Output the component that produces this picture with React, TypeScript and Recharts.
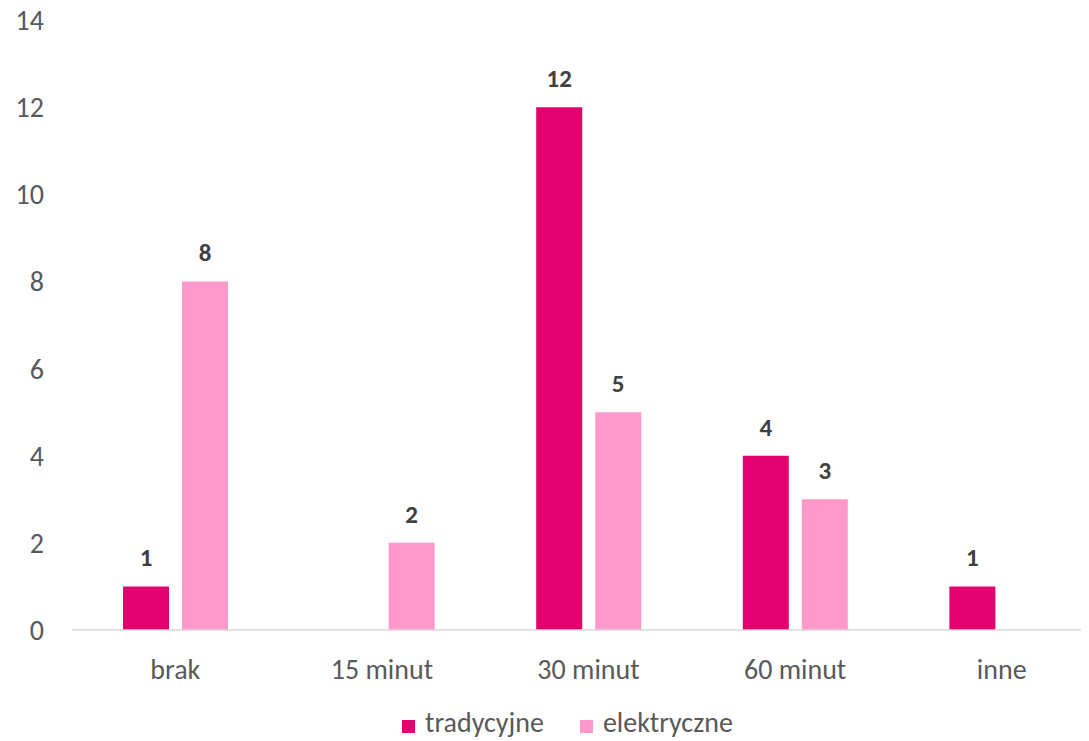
import React from 'react';
import { BarChart, Bar, XAxis, YAxis, Legend, LabelList } from 'recharts';

const categories = ['brak', '15 minut', '30 minut', '60 minut', 'inne'];
const tradycyjne = [1, 0, 12, 4, 1];
const elektryczne = [8, 2, 5, 3, 0];
const yTicks = [0, 2, 4, 6, 8, 10, 12, 14];
const seriesNames = ['tradycyjne', 'elektryczne'];
const colors = ['#E3006F', '#FF99CC'];

const data = categories.map((c, i) => ({
  name: c,
  tradycyjne: tradycyjne[i],
  elektryczne: elektryczne[i],
}));

const FONT = 'Carlito, Calibri, Lato, sans-serif';

const fmt = (v: any) => (v === 0 || v == null ? '' : String(v));

const LegendContent = () => (
  <div
    style={{
      height: 36,
      display: 'flex',
      alignItems: 'flex-start',
      paddingLeft: 402,
      fontFamily: FONT,
      fontSize: 28,
      color: '#595959',
    }}
  >
    {seriesNames.map((n, i) => (
      <div key={n} style={{ display: 'flex', alignItems: 'flex-start', marginRight: 36 }}>
        <div style={{ width: 13, height: 13, background: colors[i], marginRight: 10, marginTop: 15 }} />
        <span style={{ lineHeight: '28px', display: 'block', marginTop: 4 }}>{n}</span>
      </div>
    ))}
  </div>
);

export default function App() {
  return (
    <div style={{ width: 1089, height: 741, margin: '-8px 0 0 -8px', overflow: 'hidden', fontFamily: FONT }}>
      <BarChart
        width={1105}
        height={741}
        data={data}
        margin={{ top: 20, right: 0, bottom: 0, left: 0 }}
        barSize={46}
        barGap={13}
      >
        <XAxis
          dataKey="name"
          height={75}
          axisLine={{ stroke: '#D9D9D9', strokeWidth: 1.5 }}
          tickLine={false}
          tickSize={0}
          tickMargin={29}
          tick={{ fill: '#595959', fontSize: 28, fontFamily: FONT }}
          interval={0}
        />
        <YAxis
          width={72}
          domain={[0, 14]}
          ticks={yTicks}
          axisLine={false}
          tickLine={false}
          tickSize={0}
          tickMargin={28}
          tick={{ fill: '#595959', fontSize: 28, fontFamily: FONT }}
          interval={0}
        />
        <Legend
          verticalAlign="bottom"
          height={36}
          wrapperStyle={{ left: 0, width: 1105, height: 36 }}
          content={<LegendContent />}
        />
        <Bar dataKey="tradycyjne" fill={colors[0]} isAnimationActive={false}>
          <LabelList
            dataKey="tradycyjne"
            position="top"
            offset={20}
            formatter={fmt}
            style={{ fill: '#404040', fontSize: 25, fontWeight: 700, fontFamily: FONT }}
          />
        </Bar>
        <Bar dataKey="elektryczne" fill={colors[1]} isAnimationActive={false}>
          <LabelList
            dataKey="elektryczne"
            position="top"
            offset={20}
            formatter={fmt}
            style={{ fill: '#404040', fontSize: 25, fontWeight: 700, fontFamily: FONT }}
          />
        </Bar>
      </BarChart>
    </div>
  );
}
